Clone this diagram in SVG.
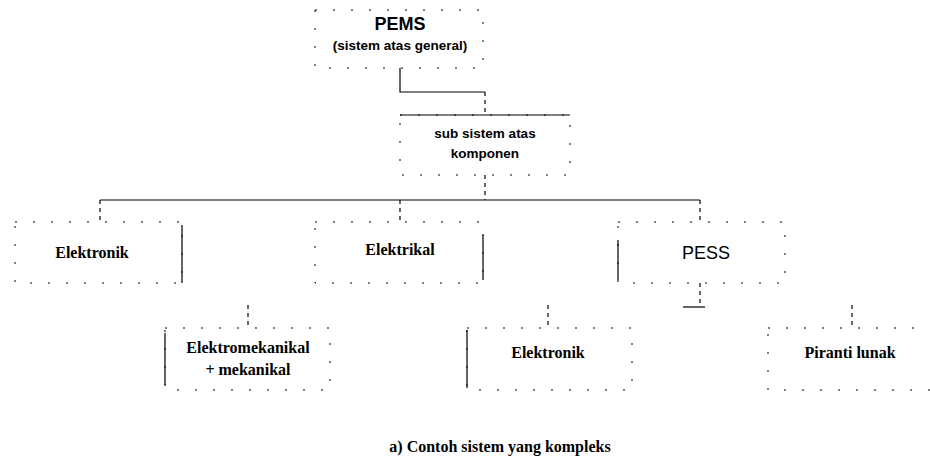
<svg xmlns="http://www.w3.org/2000/svg" width="930" height="465" viewBox="0 0 930 465">
<style>
.box{fill:none;stroke:#000;stroke-width:1;stroke-dasharray:2 16}
.edge{fill:none;stroke:#000;stroke-width:1.2}
.dash{fill:none;stroke:#000;stroke-width:1.2;stroke-dasharray:4 4}
.t{font-family:"Liberation Serif",serif;font-weight:bold;font-size:16px;text-anchor:middle;fill:#000}
.s{font-family:"Liberation Sans",sans-serif;font-size:18px;text-anchor:middle;fill:#000}
.sm{font-family:"Liberation Sans",sans-serif;font-weight:bold;font-size:13.5px;text-anchor:middle;fill:#000}
</style>
<rect width="930" height="465" fill="#fff"/>
<g id="connectors">
<path class="edge" d="M400 68 V92 H485"/>
<path class="dash" d="M485 92 V115"/>
<path class="dash" d="M485 175 V200"/>
<path class="edge" d="M100 200 H700"/>
<path class="dash" d="M100 200 V222"/>
<path class="dash" d="M400 200 V222"/>
<path class="dash" d="M700 200 V222"/>
<path class="dash" d="M700 283 V307"/>
<path class="edge" d="M683 307 H705"/>
<path class="dash" d="M248 305 V328"/>
<path class="dash" d="M548 305 V328"/>
<path class="dash" d="M852 305 V328"/>
</g>
<g id="pems">
<rect class="box" x="315" y="10" width="168" height="58"/>
<text class="s" x="400" y="30" font-weight="bold">PEMS</text>
<text class="sm" x="400" y="50">(sistem atas general)</text>
</g>
<g id="subsistem">
<path class="edge" d="M400 115 H570"/>
<rect class="box" x="400" y="115" width="170" height="60"/>
<text class="sm" x="485" y="138" font-size="14.5">sub sistem atas</text>
<text class="sm" x="485" y="158" font-size="14.5">komponen</text>
</g>
<g id="elektronik1">
<rect class="box" x="15" y="222" width="167" height="61"/>
<path class="edge" d="M182 225 V283"/>
<text class="t" x="92" y="258">Elektronik</text>
</g>
<g id="elektrikal">
<rect class="box" x="315" y="222" width="168" height="61"/>
<path class="edge" d="M483 235 V280"/>
<text class="t" x="400" y="255">Elektrikal</text>
</g>
<g id="pess">
<rect class="box" x="618" y="222" width="167" height="61"/>
<path class="edge" d="M618 240 V280"/>
<text class="s" x="706" y="259">PESS</text>
</g>
<g id="elektromekanikal">
<rect class="box" x="165" y="328" width="165" height="62"/>
<path class="edge" d="M165 333 V385"/>
<text class="t" x="248" y="353">Elektromekanikal</text>
<text class="t" x="248" y="375">+ mekanikal</text>
</g>
<g id="elektronik2">
<rect class="box" x="467" y="328" width="165" height="62"/>
<path class="edge" d="M467 330 V388"/>
<text class="t" x="548" y="358">Elektronik</text>
</g>
<g id="piranti">
<rect class="box" x="768" y="328" width="167" height="62"/>
<text class="t" x="850" y="358">Piranti lunak</text>
</g>
<text class="t" x="500" y="452">a) Contoh sistem yang kompleks</text>
</svg>
